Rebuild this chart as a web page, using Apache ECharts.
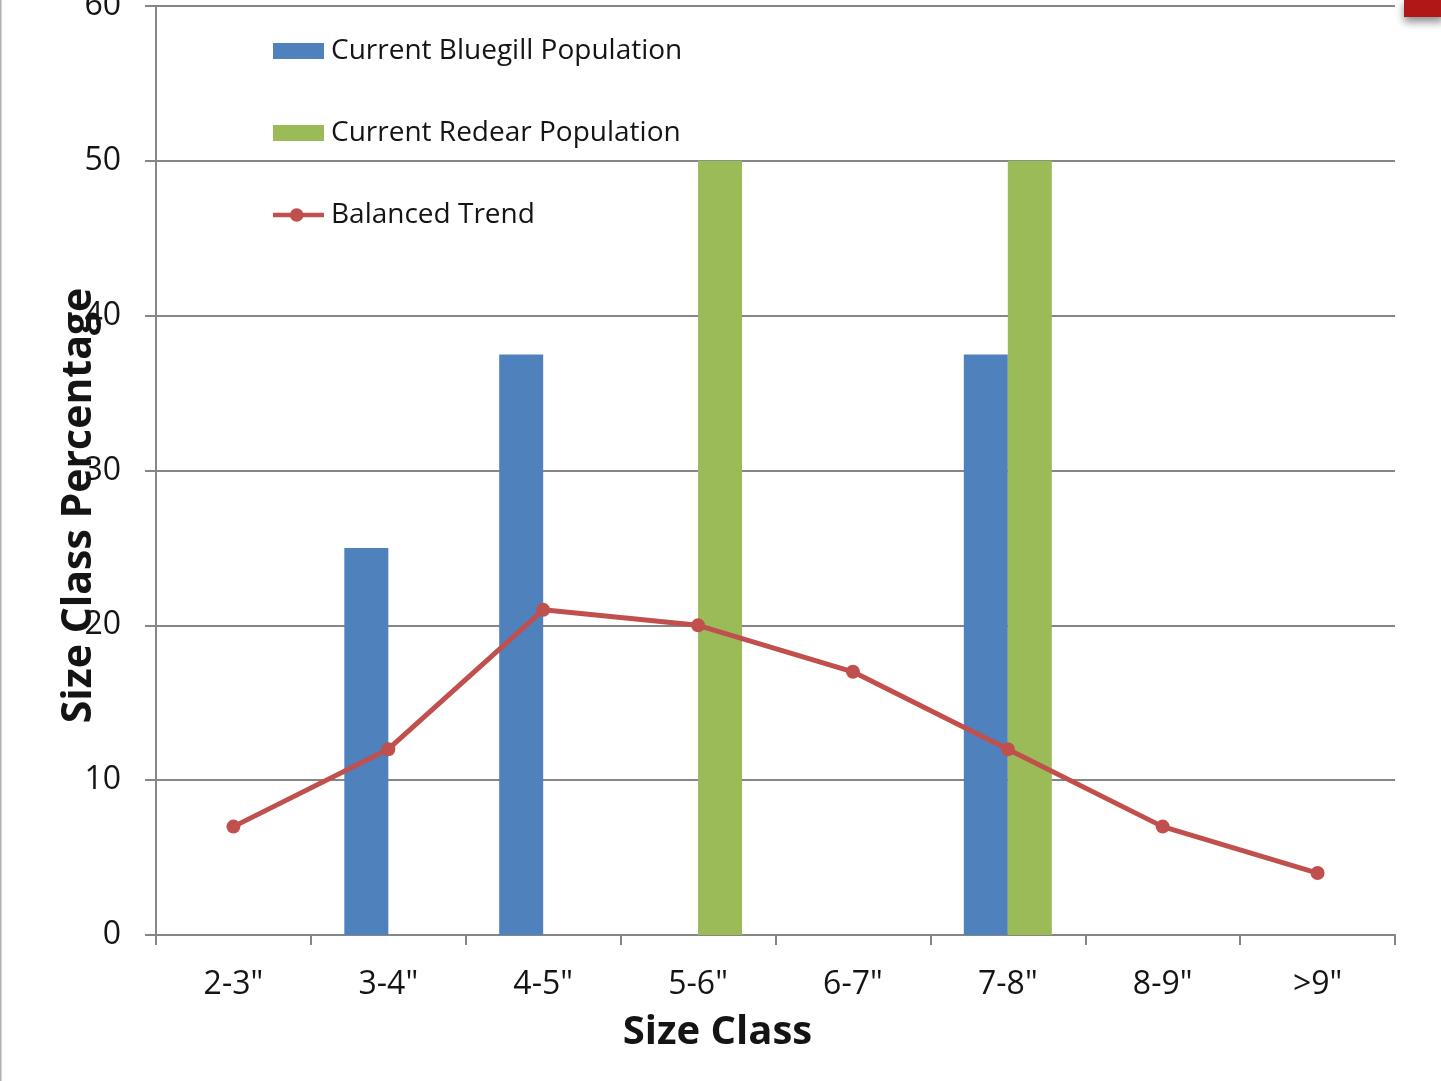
<!DOCTYPE html>
<html>
<head>
<meta charset="utf-8">
<script src="https://cdn.jsdelivr.net/npm/echarts@6/dist/echarts.min.js"></script>
<style>
  html, body { margin: 0; padding: 0; background: #fff; }
  #chart { width: 1441px; height: 1081px; }
</style>
</head>
<body>
<div id="chart"></div>
<script>
// Size-class distribution of sampled fish vs. a balanced population trend
const sizeClasses = ['2-3"', '3-4"', '4-5"', '5-6"', '6-7"', '7-8"', '8-9"', '>9"'];
const bluegill = [null, 25, 37.5, null, null, 37.5, null, null];
const redear = [null, null, null, 50, null, 50, null, null];
const balancedTrend = [7, 12, 21, 20, 17, 12, 7, 4];
const yTicks = [0, 10, 20, 30, 40, 50, 60];

const FONT = '"Open Sans", "Noto Sans", sans-serif';
const AXIS_GRAY = '#868686';
const TEXT = '#141414';
const TREND_RED = '#C0504D';

// legend glyph for the trend line: thick stroke with a dot in the middle
const trendIcon = 'path://M0,5.5 L19,5.5 L19,10.5 L0,10.5 Z ' +
  'M33,5.5 L56,5.5 L56,10.5 L33,10.5 Z ' +
  'M18.5,8 A7.5,7.5 0 1,1 33.5,8 A7.5,7.5 0 1,1 18.5,8 Z';

const chart = echarts.init(document.getElementById('chart'));
chart.setOption({
  animation: false,
  backgroundColor: '#ffffff',
  grid: { left: 156, right: 46, top: 6, bottom: 146, containLabel: false, outerBoundsMode: 'none' },
  legend: {
    orient: 'vertical',
    left: 268,
    top: 31,
    itemWidth: 51,
    itemHeight: 16,
    itemGap: 52,
    textStyle: { fontFamily: FONT, fontSize: 28, color: TEXT, lineHeight: 30, padding: [0, 0, 0, 2] },
    data: [
      { name: 'Current Bluegill Population', icon: 'rect' },
      { name: 'Current Redear Population', icon: 'rect' },
      { name: 'Balanced Trend', icon: trendIcon, itemStyle: { color: TREND_RED, borderWidth: 0 } }
    ]
  },
  xAxis: {
    type: 'category',
    data: sizeClasses,
    boundaryGap: true,
    name: 'Size Class',
    nameLocation: 'middle',
    nameGap: 78,
    nameMoveOverlap: false,
    nameTextStyle: { fontFamily: FONT, fontSize: 40, fontWeight: 'bold', color: TEXT, padding: [0, 116, 0, 0] },
    axisLine: { show: true, lineStyle: { color: AXIS_GRAY, width: 2 } },
    axisTick: { show: true, alignWithLabel: false, length: 10, lineStyle: { color: AXIS_GRAY, width: 2 } },
    axisLabel: { fontFamily: FONT, fontSize: 32, color: TEXT, margin: 34 },
    splitLine: { show: false }
  },
  yAxis: {
    type: 'value',
    min: yTicks[0],
    max: yTicks[yTicks.length - 1],
    interval: 10,
    name: 'Size Class Percentage',
    nameLocation: 'middle',
    nameRotate: 90,
    nameGap: 56,
    nameMoveOverlap: false,
    nameTextStyle: { fontFamily: FONT, fontSize: 41, fontWeight: 'bold', color: TEXT, padding: [0, 70, 0, 0] },
    axisLine: { show: true, lineStyle: { color: AXIS_GRAY, width: 2 } },
    axisTick: { show: true, inside: false, length: 11, lineStyle: { color: AXIS_GRAY, width: 2 } },
    axisLabel: { fontFamily: FONT, fontSize: 32, color: TEXT, margin: 35 },
    splitLine: { show: true, lineStyle: { color: AXIS_GRAY, width: 2 } }
  },
  series: [
    {
      name: 'Current Bluegill Population',
      type: 'bar',
      data: bluegill,
      barWidth: 44,
      barGap: '0%',
      itemStyle: { color: '#4F81BD' }
    },
    {
      name: 'Current Redear Population',
      type: 'bar',
      data: redear,
      barWidth: 44,
      barGap: '0%',
      itemStyle: { color: '#9BBB59' }
    },
    {
      name: 'Balanced Trend',
      type: 'line',
      data: balancedTrend,
      symbol: 'circle',
      symbolSize: 14,
      z: 5,
      lineStyle: { color: TREND_RED, width: 5 },
      itemStyle: { color: TREND_RED }
    }
  ],
  graphic: [
    {
      type: 'line',
      shape: { x1: 0.5, y1: 0, x2: 0.5, y2: 1081 },
      style: { stroke: '#b0b0b0', lineWidth: 2 }
    },
    {
      type: 'rect',
      shape: { x: 1404, y: -2, width: 40, height: 19 },
      style: {
        fill: '#B01716',
        shadowBlur: 8,
        shadowOffsetY: 5,
        shadowColor: 'rgba(0,0,0,0.45)'
      }
    }
  ]
});
</script>
</body>
</html>
